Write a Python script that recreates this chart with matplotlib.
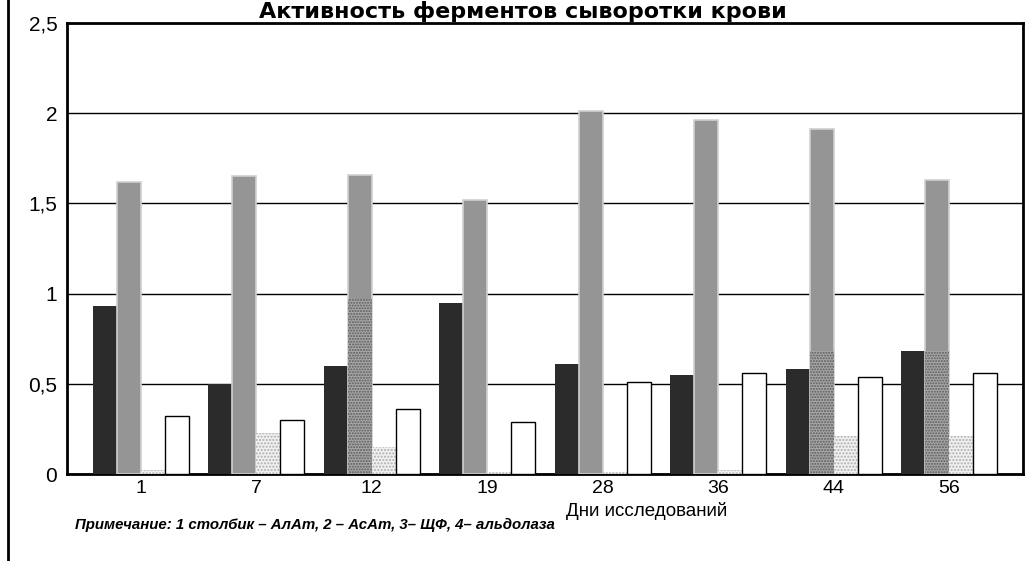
import matplotlib.pyplot as plt
from matplotlib.lines import Line2D
import numpy as np

plt.rcParams['font.family'] = ['Liberation Sans', 'DejaVu Sans']

# данные
days = ['1', '7', '12', '19', '28', '36', '44', '56']
alat = [0.93, 0.50, 0.60, 0.95, 0.61, 0.55, 0.58, 0.68]
asat = [1.62, 1.65, 1.66, 1.52, 2.01, 1.96, 1.91, 1.63]
asat_low = [0, 0, 0.97, 0, 0, 0, 0.68, 0.68]   # точечная нижняя часть 2-го столбика
shchf = [0.02, 0.23, 0.15, 0.01, 0.01, 0.02, 0.21, 0.21]
aldolase = [0.32, 0.30, 0.36, 0.29, 0.51, 0.56, 0.54, 0.56]
yticks = [0, 0.5, 1, 1.5, 2, 2.5]
ylabels = ['0', '0,5', '1', '1,5', '2', '2,5']

W, H = 1027, 561
fig = plt.figure(figsize=(W / 100, H / 100), dpi=100)
ax = fig.add_axes([67 / W, 1 - 474 / H, 956 / W, 451 / H])

x = np.arange(len(days))
w = 0.208

ax.bar(x - 1.5 * w, alat, w, color='#2b2b2b', linewidth=0, zorder=3)
ax.bar(x - 0.5 * w, asat, w, color='#959595', edgecolor='#d0d0d0', linewidth=1.2, zorder=3)
ax.bar(x - 0.5 * w, asat_low, w, color='#a8a8a8', edgecolor='#5a5a5a', hatch='......',
       linewidth=0, zorder=4)
ax.bar(x + 0.5 * w, shchf, w, color='#f0f0f0', edgecolor='#b0b0b0', hatch='.....',
       linewidth=0, zorder=3)
ax.bar(x + 1.5 * w, aldolase, w, color='white', edgecolor='black', linewidth=1, zorder=3)

ax.set_xlim(-0.64, 7.64)
ax.set_ylim(0, 2.5)
ax.set_yticks(yticks)
ax.set_yticklabels(ylabels, fontsize=15)
ax.set_xticks(x)
ax.set_xticklabels(days, fontsize=14)
ax.tick_params(axis='y', length=0, pad=7)
ax.tick_params(axis='x', length=0, pad=4)
ax.yaxis.grid(True, color='black', linewidth=1)
ax.set_axisbelow(True)
for s in ax.spines.values():
    s.set_linewidth(2)

fig.text(523 / W, 1 - 18 / H, 'Активность ферментов сыворотки крови',
         ha='center', va='baseline', fontsize=16, fontweight='bold', family='DejaVu Sans')
fig.text(647 / W, 1 - 511 / H, 'Дни исследований', ha='center', va='center', fontsize=13.5)
fig.text(75 / W, 1 - 525 / H, 'Примечание: 1 столбик – АлАт, 2 – АсАт, 3– ЩФ, 4– альдолаза',
         ha='left', va='center', fontsize=10.8, fontweight='bold', fontstyle='italic')

fig.add_artist(Line2D([8 / W, 8 / W], [0, 1], color='black', linewidth=2))

fig.savefig('out.png', dpi=100)
